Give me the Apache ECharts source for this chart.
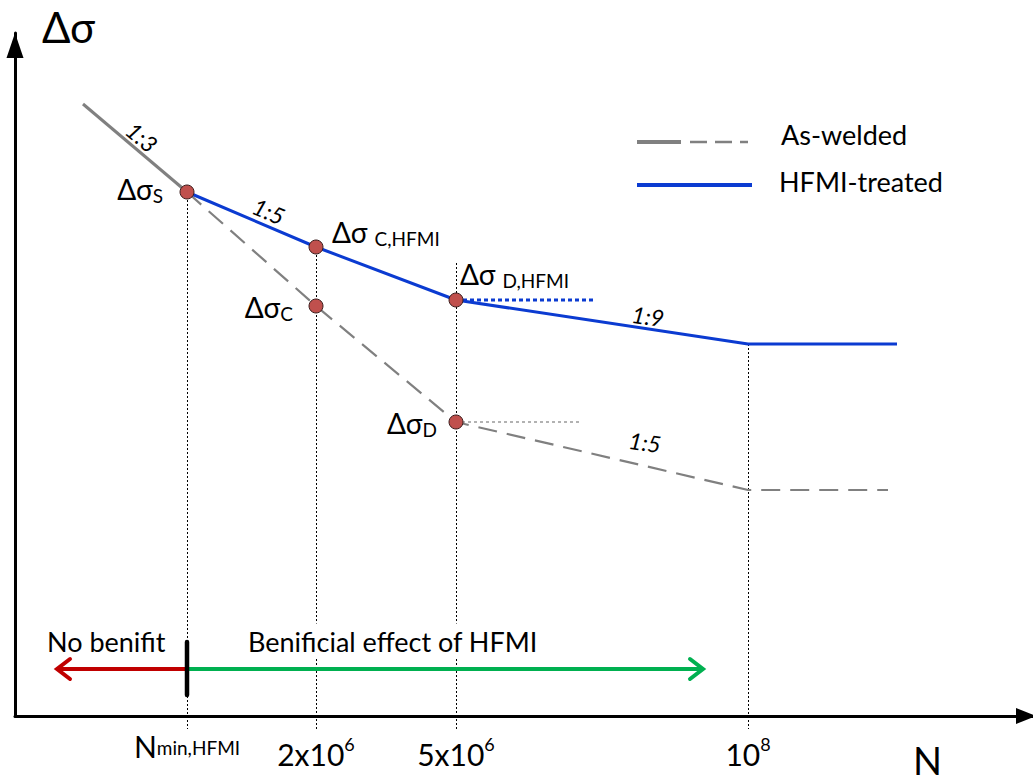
<!DOCTYPE html>
<html>
<head>
<meta charset="utf-8">
<script src="https://cdn.jsdelivr.net/npm/echarts@6/dist/echarts.min.js"></script>
<style>
html,body{margin:0;padding:0;background:#fff;}
#chart{width:1033px;height:782px;}
</style>
</head>
<body>
<div id="chart"></div>
<script>
// ---- Schematic S-N values (x: position along log N axis, y: stress range; schematic units) ----
const asWeldedSteep   = [[68, 612], [172, 524]];
const asWeldedDashed  = [[172, 524], [301, 410], [441, 294], [733, 226], [873, 226]];
const hfmiTreated     = [[172, 524], [301, 469], [441, 416], [733, 372], [882, 372]];
const hfmiCafl        = [[441, 416], [581, 416]];
const asWeldedCafl    = [[441, 294], [567, 294]];
const keyPoints       = [[172, 524], [301, 469], [301, 410], [441, 416], [441, 294]];
const guideX          = [172, 301, 441, 733];
const guideTop        = [524, 469, 453, 372];
const guideBottom     = -13;
const tickValues      = [172, 301, 441, 733];
const tickLabels      = ['{n|N}{s|min,HFMI}', '{b|2x10}{p|6}', '{b|5x10}{p|6}', '{b|10}{p|8}'];
const arrowLevel      = 47;
const noBenefitSpan   = [172, 42];
const benefitSpan     = [172, 688];
const thresholdBar    = [[172, 21], [172, 74]];
const seriesNames     = ['As-welded', 'HFMI-treated'];
const annotationTexts = ['Δσ', 'N', '1:3', '1:5', '1:9', '1:5',
  '{m|Δσ}{s|S}', '{m|Δσ }{s|C,HFMI}', '{m|Δσ }{s|D,HFMI}', '{m|Δσ}{s|C}', '{m|Δσ}{s|D}',
  'No benifit', 'Benificial effect of HFMI'];

// ---- layout / style ----
const FONT = 'Lato, "Open Sans", "DejaVu Sans", sans-serif';
const GRAY = '#808080', BLUE = '#0b3bd1', RED = '#c00000', GREEN = '#00b050', DOT = '#c0504d';
const annotationLayout = [
  {pos: [27, 689],  align: 'left',  size: 42},
  {pos: [898, -44], align: 'left',  size: 38},
  {pos: [127, 579], align: 'center', size: 23, italic: true, rot: -40},
  {pos: [254, 505], align: 'center', size: 23, italic: true, rot: -23},
  {pos: [633, 400], align: 'center', size: 23, italic: true, rot: -8},
  {pos: [630, 274], align: 'center', size: 23, italic: true, rot: -8},
  {pos: [148, 527], align: 'right', rich: true},
  {pos: [317, 484], align: 'left',  rich: true},
  {pos: [445, 442], align: 'left',  rich: true},
  {pos: [278, 409], align: 'right', rich: true},
  {pos: [422, 293], align: 'right', rich: true},
  {pos: [32, 75],   align: 'left',  size: 27},
  {pos: [233, 75],  align: 'left',  size: 27, bg: true}
];
const deltaRich = {
  m: {fontSize: 28, lineHeight: 32, fontFamily: FONT, fill: '#000'},
  s: {fontSize: 19, lineHeight: 18, verticalAlign: 'bottom', fontFamily: FONT, fill: '#000'}
};

const chart = echarts.init(document.getElementById('chart'), null, {renderer: 'svg'});

function lineSeries(name, data, color, width, type, z) {
  return {
    name: name, type: 'line', data: data, symbol: 'none', clip: false, z: z || 3,
    lineStyle: {color: color, width: width, type: type || 'solid', cap: 'butt'},
    itemStyle: {color: color}, silent: true, animation: false
  };
}

const option = {
  animation: false,
  backgroundColor: '#fff',
  grid: {left: 15, right: 0, top: 33, bottom: 66, containLabel: false},
  xAxis: {
    type: 'value', min: 0, max: 1018,
    axisLine: {show: true, onZero: false, symbol: ['none', 'triangle'], symbolSize: [16, 20], symbolOffset: [0, -7],
      lineStyle: {color: '#000', width: 3}},
    axisTick: {show: false},
    splitLine: {show: false},
    axisLabel: {
      show: true, customValues: tickValues, margin: 19, color: '#000', fontFamily: FONT,
      formatter: function (v) { return tickLabels[tickValues.indexOf(v)] || ''; },
      rich: {
        n: {fontSize: 30, lineHeight: 22, fontFamily: FONT, color: '#000'},
        s: {fontSize: 19, lineHeight: 6, verticalAlign: 'bottom', fontFamily: FONT, color: '#000'},
        b: {fontSize: 30, lineHeight: 38, fontFamily: FONT, color: '#000'},
        p: {fontSize: 18, lineHeight: 16, verticalAlign: 'top', fontFamily: FONT, color: '#000'}
      }
    }
  },
  yAxis: {
    type: 'value', min: 0, max: 683,
    axisLine: {show: true, onZero: false, symbol: ['none', 'triangle'], symbolSize: [17, 25], symbolOffset: [0, -12.5],
      lineStyle: {color: '#000', width: 3}},
    axisTick: {show: false}, axisLabel: {show: false}, splitLine: {show: false}
  },
  graphic: [
    {type: 'line', shape: {x1: 637, y1: 142, x2: 681, y2: 142}, style: {stroke: GRAY, lineWidth: 4}},
    {type: 'line', shape: {x1: 690, y1: 142, x2: 748, y2: 142}, style: {stroke: GRAY, lineWidth: 2.5, lineDash: [17, 8]}},
    {type: 'text', x: 781, y: 134, style: {text: seriesNames[0], font: '27px ' + FONT, fill: '#000', verticalAlign: 'middle'}},
    {type: 'line', shape: {x1: 637, y1: 185, x2: 752, y2: 185}, style: {stroke: BLUE, lineWidth: 4}},
    {type: 'text', x: 779, y: 181, style: {text: seriesNames[1], font: '27px ' + FONT, fill: '#000', verticalAlign: 'middle'}}
  ],
  series: [
    // vertical dotted guides
    {
      type: 'custom', clip: false, z: 1, silent: true,
      data: guideX.map(function (x, i) { return [x, guideTop[i], guideBottom]; }),
      renderItem: function (params, api) {
        const a = api.coord([api.value(0), api.value(1)]);
        const b = api.coord([api.value(0), api.value(2)]);
        return {type: 'line', shape: {x1: Math.round(a[0]) + 0.5, y1: a[1], x2: Math.round(b[0]) + 0.5, y2: b[1]},
          style: {stroke: '#000', lineWidth: 1, lineDash: [2, 2]}};
      }
    },
    lineSeries(seriesNames[0], asWeldedSteep, GRAY, 3, 'solid', 3),
    lineSeries(seriesNames[0], asWeldedDashed, GRAY, 2.2, [19, 10], 3),
    lineSeries(seriesNames[0], asWeldedCafl, '#999999', 1.5, [3, 3], 3),
    lineSeries(seriesNames[1], hfmiTreated, BLUE, 3, 'solid', 4),
    lineSeries(seriesNames[1], hfmiCafl, BLUE, 3, [4, 3], 4),
    // benefit arrows
    lineSeries('noBenefit', noBenefitSpan.map(function (x) { return [x, arrowLevel]; }), RED, 4, 'solid', 5),
    lineSeries('benefit', benefitSpan.map(function (x) { return [x, arrowLevel]; }), GREEN, 4, 'solid', 5),
    {
      type: 'custom', clip: false, z: 6, silent: true,
      data: [[noBenefitSpan[1], arrowLevel, -1], [benefitSpan[1], arrowLevel, 1]],
      renderItem: function (params, api) {
        const p = api.coord([api.value(0), api.value(1)]);
        const d = api.value(2);
        return {type: 'polyline', shape: {points: [[p[0] - d * 13, p[1] - 10], [p[0], p[1]], [p[0] - d * 13, p[1] + 10]]},
          style: {fill: null, stroke: d < 0 ? RED : GREEN, lineWidth: 4, lineCap: 'round', lineJoin: 'miter'}};
      }
    },
    Object.assign(lineSeries('threshold', thresholdBar, '#000', 4.5, 'solid', 7), {lineStyle: {color: '#000', width: 4.5, cap: 'round'}}),
    // key points
    {
      type: 'scatter', data: keyPoints, symbolSize: 14, z: 8, silent: true,
      itemStyle: {color: DOT, borderColor: '#3b1d1d', borderWidth: 1, opacity: 1}
    },
    // annotations
    {
      type: 'custom', clip: false, z: 9, silent: true,
      data: annotationLayout.map(function (a) { return a.pos; }),
      renderItem: function (params, api) {
        const i = params.dataIndex;
        const a = annotationLayout[i];
        const p = api.coord([api.value(0), api.value(1)]);
        const style = {text: annotationTexts[i], fill: '#000', align: a.align, verticalAlign: 'middle'};
        if (a.rich) {
          style.rich = deltaRich;
          style.font = '28px ' + FONT;
        } else {
          style.font = (a.italic ? 'italic ' : '') + a.size + 'px ' + FONT;
        }
        if (a.bg) { style.backgroundColor = '#fff'; style.padding = [4, 0, 4, 0]; }
        return {type: 'text', x: p[0], y: p[1], rotation: (a.rot || 0) * Math.PI / 180, style: style};
      }
    }
  ]
};
chart.setOption(option);
</script>
</body>
</html>
